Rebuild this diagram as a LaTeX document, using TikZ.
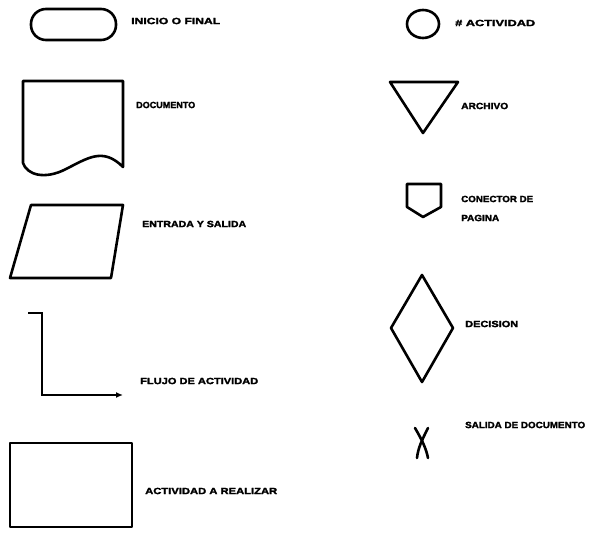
\documentclass[tikz,border=0pt]{standalone}
\usepackage{graphicx}
\usepackage{fontspec}
\setmainfont{Liberation Sans}
\newfontfamily\lblfont[FakeStretch=1.2,FakeBold=2.5]{Liberation Sans Bold}
\newcommand{\fitw}[2]{\resizebox{#1pt}{\height}{#2}}
\usetikzlibrary{arrows.meta}
\begin{document}
\begin{tikzpicture}[x=1pt,y=-1pt,
  shp/.style={line width=2.6pt, line join=round, line cap=round},
  lbl/.style={anchor=west, inner sep=0pt, font=\fontsize{9}{10}\lblfont}]
\useasboundingbox (0,0) rectangle (592,534);
% left column
\draw[shp, rounded corners=15pt] (31,9) rectangle (116,40);
\node[lbl] (t1) at (131,21) {\fitw{89}{INICIO O FINAL}};
\draw[shp] (23,81) -- (123,81) -- (123,167)
  .. controls (103,147) and (88,158) .. (66,169)
  .. controls (45,180) and (27,175) .. (23,163) -- cycle;
\node[lbl] (t2) at (136,105) {\fitw{59}{DOCUMENTO}};
\draw[shp] (31,205) -- (123,205) -- (111,278) -- (10,278) -- cycle;
\node[lbl] (t3) at (142,224) {\fitw{104}{ENTRADA Y SALIDA}};
\coordinate (f0) at (28,313);
\coordinate (f1) at (42,313);
\coordinate (f2) at (42,395);
\coordinate (f3) at (123,395);
\draw[line width=2pt, -{Latex[length=7pt,width=6pt]}] (f0) -- (f1) -- (f2) -- (f3);
\node[lbl] (t4) at (140,381) {\fitw{118}{FLUJO DE ACTIVIDAD}};
\draw[shp] (10,443) rectangle (132,527);
\node[lbl] (t5) at (145,491) {\fitw{132}{ACTIVIDAD A REALIZAR}};
% right column
\draw[shp] (423,24) ellipse (16pt and 14pt);
\node[lbl] (t6) at (455,23) {\fitw{80}{\# ACTIVIDAD}};
\draw[shp] (390,82) -- (458,82) -- (423,133) -- cycle;
\node[lbl] (t7) at (461,106) {\fitw{47}{ARCHIVO}};
\draw[shp] (407,184) -- (441,184) -- (441,207) -- (423,217) -- (407,207) -- cycle;
\node[lbl] (t8) at (461,199) {\fitw{72}{CONECTOR DE}};
\node[lbl] (t9) at (461,218) {\fitw{38}{PAGINA}};
\draw[shp] (422,275) -- (453,328) -- (422,382) -- (391,328) -- cycle;
\node[lbl] (t10) at (465,324) {\fitw{53}{DECISION}};
\draw[shp] (415,428) .. controls (422,440) and (426,448) .. (428,458);
\draw[shp] (428,428) .. controls (422,440) and (418,448) .. (417,458);
\node[lbl] (t11) at (465,425) {\fitw{120}{SALIDA DE DOCUMENTO}};
\end{tikzpicture}
\end{document}
